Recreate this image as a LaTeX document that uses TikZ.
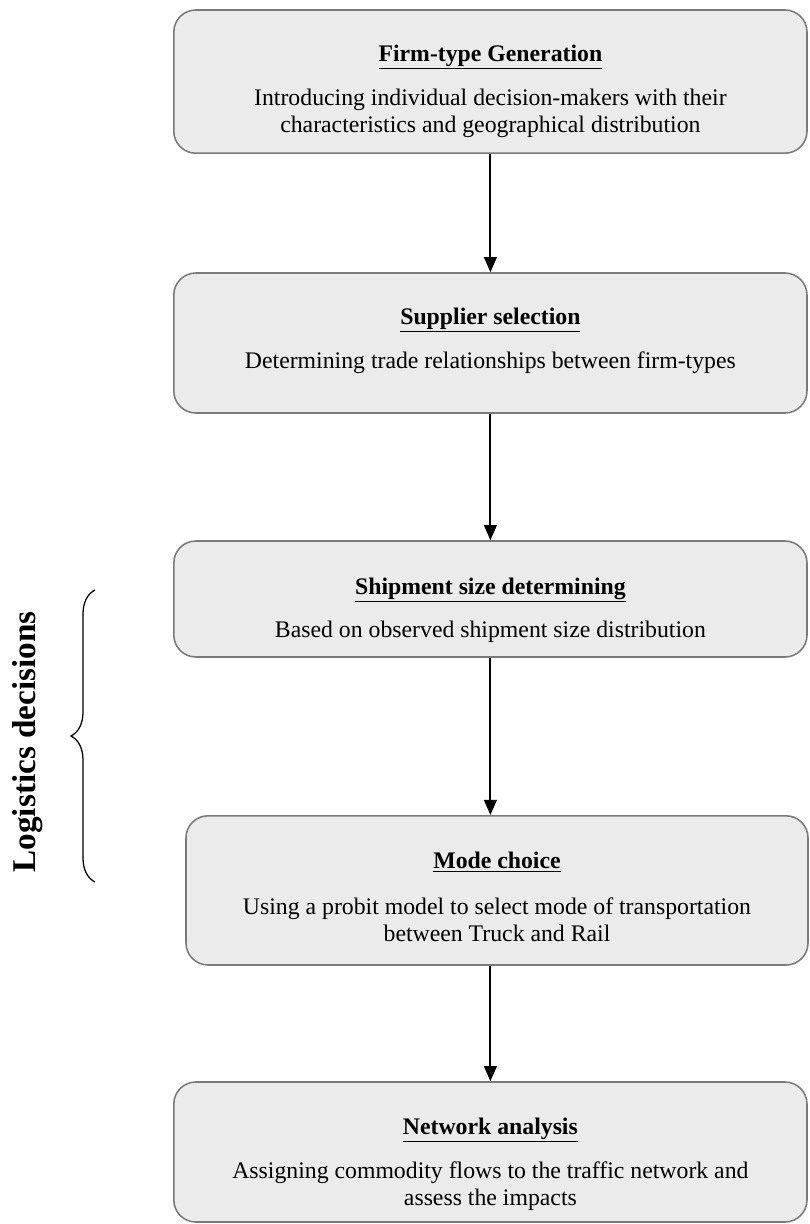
\documentclass[tikz,border=0pt]{standalone}
\usepackage{fontspec}
\setmainfont{Liberation Serif}
\usetikzlibrary{arrows.meta,decorations.pathreplacing}
\definecolor{boxfill}{HTML}{EBEBEB}
\definecolor{boxline}{HTML}{7A7A7A}
\begin{document}
\begin{tikzpicture}
\tikzset{every node/.style={font=\fontsize{16.9}{19.4}\selectfont}}
\tikzset{stage/.style={rectangle, rounded corners=0.55cm, draw=boxline, fill=boxfill, line width=1.1pt, minimum width=15.83cm}}
\tikzset{head/.style={font=\fontsize{16.9}{19.4}\selectfont\bfseries}}
\tikzset{body/.style={align=center}}
\tikzset{flow/.style={line width=1.3pt, -{Triangle[length=0.38cm,width=0.32cm]}}}

\useasboundingbox (0,0) rectangle (20.225,-30.6);

% Boxes for stages
\node[stage, minimum height=3.58cm] at (12.26,-2.04) (gen) {};
\node[stage, minimum height=3.5cm] at (12.26,-8.575) (sup) {};
\node[stage, minimum height=2.9cm] at (12.26,-14.975) (ship) {};
\node[stage, minimum height=3.73cm, minimum width=15.55cm] at (12.425,-22.26) (mode) {};
\node[stage, minimum height=3.5cm] at (12.26,-28.8) (net) {};

% Texts for stages
\node[head] at (12.26,-1.43) (genHead) {\underline{Firm-type Generation}};
\node[body] at (12.26,-2.84) (genBody) {Introducing individual decision-makers with their\\characteristics and geographical distribution};

\node[head] at (12.26,-8.0) (supHead) {\underline{Supplier selection}};
\node[body] at (12.26,-9.075) (supBody) {Determining trade relationships between firm-types};

\node[head] at (12.26,-14.75) (shipHead) {\underline{Shipment size determining}};
\node[body] at (12.26,-15.8) (shipBody) {Based on observed shipment size distribution};

\node[head] at (12.425,-21.55) (modeHead) {\underline{Mode choice}};
\node[body] at (12.425,-22.99) (modeBody) {Using a probit model to select mode of transportation\\between Truck and Rail};

\node[head] at (12.26,-28.25) (netHead) {\underline{Network analysis}};
\node[body] at (12.26,-29.66) (netBody) {Assigning commodity flows to the traffic network and\\assess the impacts};

% Arrows between stages
\draw[flow] (gen.south) -- (sup.north);
\draw[flow] (sup.south) -- (ship.north);
\draw[flow] (ship.south) -- (ship.south |- mode.north);
\draw[flow] (mode.south -| net.north) -- (net.north);

% Brace for logistics decisions
\coordinate (braceTop) at (2.375,-14.75);
\coordinate (braceBot) at (2.375,-22.05);
\draw[line width=0.9pt, decorate, decoration={brace, amplitude=0.6cm}] (braceBot) -- (braceTop);
\node[rotate=90, font=\fontsize{23.6}{28}\selectfont\bfseries] at (0.7,-18.55) (logi) {Logistics decisions};
\end{tikzpicture}
\end{document}
